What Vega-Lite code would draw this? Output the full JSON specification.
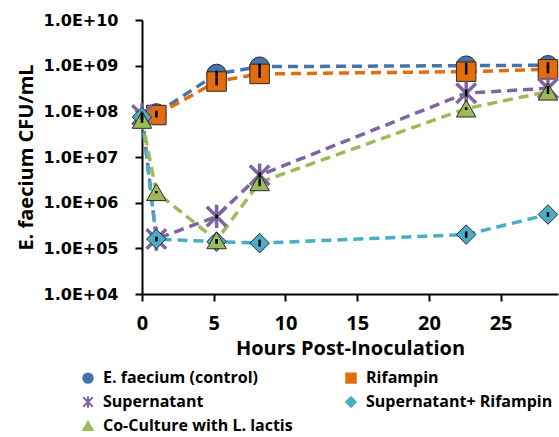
{
  "$schema": "https://vega.github.io/schema/vega-lite/v6.json",
  "width": 416,
  "height": 274,
  "autosize": "none",
  "padding": {"left": 142, "top": 20, "right": 1, "bottom": 143},
  "config": {
    "view": {"stroke": null},
    "legend": {
      "orient": "none",
      "legendX": -62,
      "legendY": 350,
      "columns": 2,
      "labelFont": "Open Sans",
      "labelFontSize": 16,
      "labelFontWeight": "bold",
      "labelColor": "black",
      "labelLimit": 400,
      "labelOffset": 7,
      "symbolSize": 90,
      "symbolStrokeWidth": 2,
      "rowPadding": 5,
      "columnPadding": 49
    }
  },
  "data": {
    "values": [
      {"series": "E. faecium (control)", "t": 1.0, "cfu": 9.0e7, "lo": 7.8e7, "hi": 1.04e8},
      {"series": "E. faecium (control)", "t": 5.2, "cfu": 6.6e8, "lo": 5.6e8, "hi": 7.8e8},
      {"series": "E. faecium (control)", "t": 8.2, "cfu": 9.5e8, "lo": 8.1e8, "hi": 1.1e9},
      {"series": "E. faecium (control)", "t": 22.6, "cfu": 1.0e9, "lo": 8.6e8, "hi": 1.16e9},
      {"series": "E. faecium (control)", "t": 28.3, "cfu": 1.02e9, "lo": 8.6e8, "hi": 1.2e9},
      {"series": "Rifampin", "t": 1.0, "cfu": 8.3e7, "lo": 7.3e7, "hi": 9.4e7},
      {"series": "Rifampin", "t": 5.2, "cfu": 4.5e8, "lo": 3.7e8, "hi": 5.5e8},
      {"series": "Rifampin", "t": 8.2, "cfu": 6.6e8, "lo": 5.4e8, "hi": 8.0e8},
      {"series": "Rifampin", "t": 22.6, "cfu": 7.4e8, "lo": 6.4e8, "hi": 8.6e8},
      {"series": "Rifampin", "t": 28.3, "cfu": 8.3e8, "lo": 6.8e8, "hi": 1.0e9},
      {"series": "Supernatant", "t": 0, "cfu": 8.3e7, "lo": 7.3e7, "hi": 9.4e7},
      {"series": "Supernatant", "t": 1.0, "cfu": 1.6e5, "lo": 1.45e5, "hi": 1.75e5},
      {"series": "Supernatant", "t": 5.2, "cfu": 5.0e5, "lo": 4.5e5, "hi": 5.5e5},
      {"series": "Supernatant", "t": 8.2, "cfu": 4.0e6, "lo": 3.5e6, "hi": 4.6e6},
      {"series": "Supernatant", "t": 22.6, "cfu": 2.5e8, "lo": 2.1e8, "hi": 3.0e8},
      {"series": "Supernatant", "t": 28.3, "cfu": 3.2e8, "lo": 2.8e8, "hi": 3.6e8},
      {"series": "Supernatant+ Rifampin", "t": 0, "cfu": 7.5e7, "lo": 6.4e7, "hi": 8.8e7},
      {"series": "Supernatant+ Rifampin", "t": 1.0, "cfu": 1.6e5, "lo": 1.42e5, "hi": 1.8e5},
      {"series": "Supernatant+ Rifampin", "t": 5.2, "cfu": 1.4e5, "lo": 1.25e5, "hi": 1.55e5},
      {"series": "Supernatant+ Rifampin", "t": 8.2, "cfu": 1.3e5, "lo": 1.1e5, "hi": 1.55e5},
      {"series": "Supernatant+ Rifampin", "t": 22.6, "cfu": 2.0e5, "lo": 1.7e5, "hi": 2.35e5},
      {"series": "Supernatant+ Rifampin", "t": 28.3, "cfu": 5.5e5, "lo": 4.9e5, "hi": 6.2e5},
      {"series": "Co-Culture with L. lactis", "t": 0, "cfu": 6.5e7, "lo": 5.6e7, "hi": 7.5e7},
      {"series": "Co-Culture with L. lactis", "t": 1.0, "cfu": 1.7e6, "lo": 1.6e6, "hi": 1.8e6},
      {"series": "Co-Culture with L. lactis", "t": 5.2, "cfu": 1.5e5, "lo": 1.4e5, "hi": 1.6e5},
      {"series": "Co-Culture with L. lactis", "t": 8.2, "cfu": 2.8e6, "lo": 2.3e6, "hi": 3.4e6},
      {"series": "Co-Culture with L. lactis", "t": 22.6, "cfu": 1.15e8, "lo": 1.07e8, "hi": 1.23e8},
      {"series": "Co-Culture with L. lactis", "t": 28.3, "cfu": 2.7e8, "lo": 2.4e8, "hi": 3.0e8}
    ]
  },
  "encoding": {
    "x": {
      "field": "t",
      "type": "quantitative",
      "scale": {"domain": [0, 29], "nice": false, "zero": false},
      "axis": {
        "values": [0, 5, 10, 15, 20, 25],
        "grid": false,
        "title": "Hours Post-Inoculation",
        "titleFont": "Open Sans",
        "titleFontSize": 20,
        "titleFontWeight": "bold",
        "titleColor": "black",
        "titlePadding": 5,
        "labelFont": "Open Sans",
        "labelFontSize": 20,
        "labelFontWeight": "bold",
        "labelColor": "black",
        "labelPadding": 12,
        "labelFlush": false,
        "tickSize": 7,
        "tickWidth": 2,
        "tickColor": "black",
        "domainColor": "black",
        "domainWidth": 2
      }
    },
    "y": {
      "field": "cfu",
      "type": "quantitative",
      "scale": {"type": "log", "domain": [10000, 10000000000], "nice": false},
      "axis": {
        "values": [10000, 100000, 1000000, 10000000, 100000000, 1000000000, 10000000000],
        "labelExpr": "'1.0E+' + (round(log(datum.value)/LN10) < 10 ? '0' : '') + round(log(datum.value)/LN10)",
        "grid": false,
        "title": "E. faecium CFU/mL",
        "titleFont": "Open Sans",
        "titleFontSize": 20,
        "titleFontWeight": "bold",
        "titleColor": "black",
        "titlePadding": 7,
        "labelFont": "DejaVu Sans",
        "labelFontSize": 16,
        "labelFontWeight": "bold",
        "labelColor": "black",
        "labelPadding": 17,
        "labelFlush": false,
        "tickSize": 7,
        "tickWidth": 2,
        "tickColor": "black",
        "domainColor": "black",
        "domainWidth": 2
      }
    }
  },
  "layer": [
    {
      "mark": {"type": "line", "strokeWidth": 3.5, "strokeDash": [10, 6]},
      "encoding": {
        "color": {
          "field": "series",
          "type": "nominal",
          "scale": {
            "domain": ["E. faecium (control)", "Supernatant", "Co-Culture with L. lactis", "Rifampin", "Supernatant+ Rifampin"],
            "range": ["#4573AC", "#8064A2", "#9BBB59", "#E46C0A", "#4BACC6"]
          },
          "legend": {"title": null}
        }
      }
    },
    {
      "mark": {"type": "point", "filled": true, "size": 380, "opacity": 1},
      "encoding": {
        "shape": {
          "field": "series",
          "type": "nominal",
          "scale": {
            "domain": ["E. faecium (control)", "Supernatant", "Co-Culture with L. lactis", "Rifampin", "Supernatant+ Rifampin"],
            "range": ["circle", "M-1,-1L1,1M-1,1L1,-1M0,-1.2L0,1.2", "triangle-up", "square", "diamond"]
          },
          "legend": {"title": null}
        },
        "fill": {
          "field": "series",
          "type": "nominal",
          "scale": {
            "domain": ["E. faecium (control)", "Supernatant", "Co-Culture with L. lactis", "Rifampin", "Supernatant+ Rifampin"],
            "range": ["#4573AC", "#8064A2", "#9BBB59", "#E46C0A", "#4BACC6"]
          },
          "legend": {"title": null}
        },
        "stroke": {
          "condition": {"test": "datum.series === 'Supernatant'", "value": "#8064A2"},
          "value": "#2b2b2b"
        },
        "strokeWidth": {
          "condition": {"test": "datum.series === 'Supernatant'", "value": 3.5},
          "value": 1
        }
      }
    },
    {
      "mark": {"type": "rule", "color": "black", "strokeWidth": 2.5},
      "encoding": {
        "y": {"field": "lo", "type": "quantitative"},
        "y2": {"field": "hi"}
      }
    }
  ]
}
